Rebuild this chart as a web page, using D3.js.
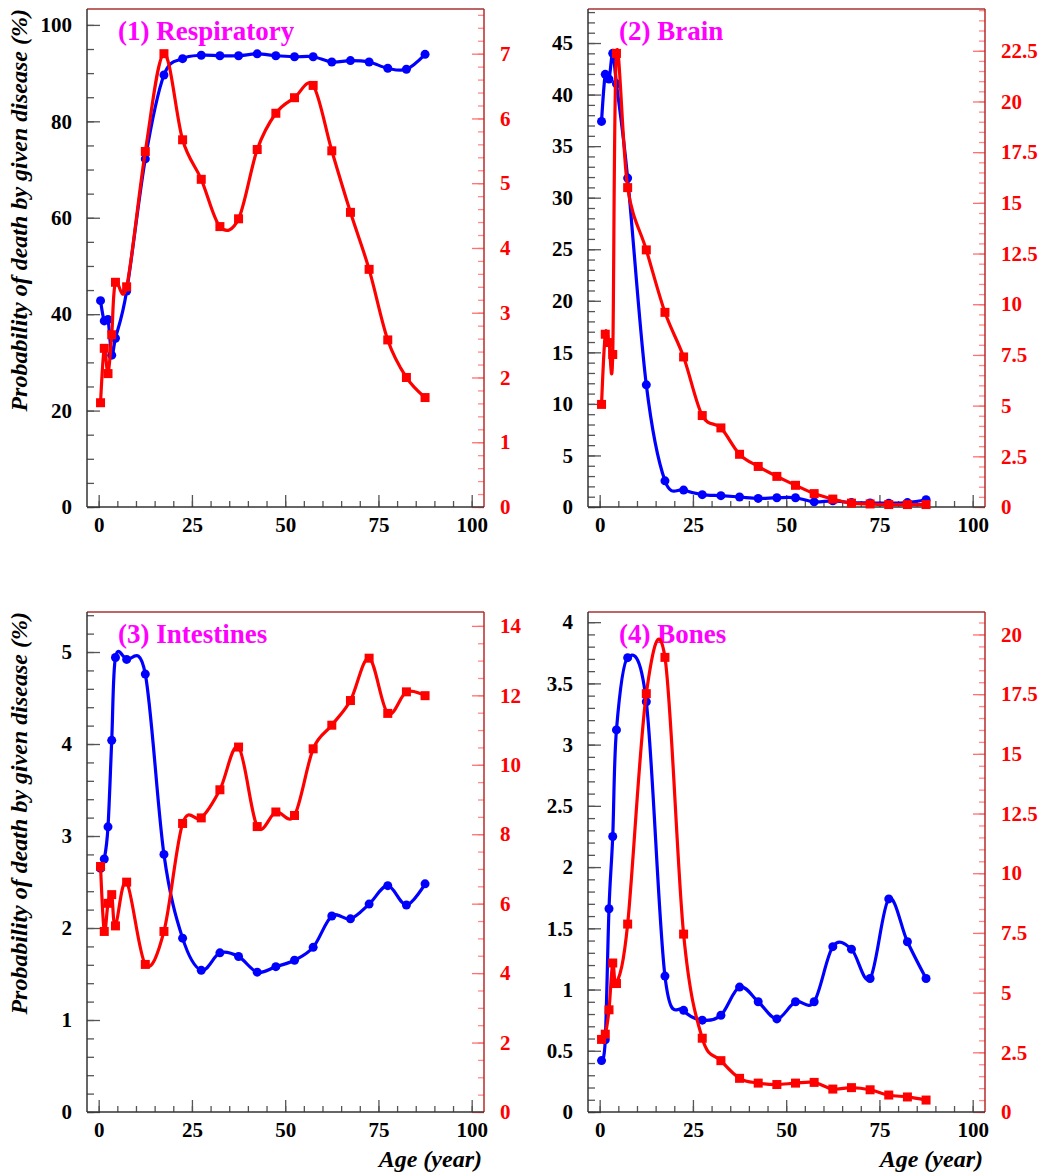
<!DOCTYPE html>
<html>
<meta charset="utf-8">
<script src="https://d3js.org/d3.v7.min.js"></script>
<style>
  body { margin: 0; background: #fff; }
  text { font-family: "Liberation Serif", "Times New Roman", serif; font-weight: bold; }
</style>
<body>
<div id="vis"></div>
<script>

// age bins (year)
var ages = [0.5, 1.5, 2.5, 3.5, 4.5, 7.5, 12.5, 17.5, 22.5, 27.5, 32.5, 37.5,
            42.5, 47.5, 52.5, 57.5, 62.5, 67.5, 72.5, 77.5, 82.5, 87.5];

// blue = probability of death by given disease (%), left axis
// red  = second quantity, right axis
var respBlue = [42.8, 38.6, 38.9, 31.5, 35.0, 44.8, 72.2, 89.6, 93.0, 93.7, 93.6, 93.6,
                94.0, 93.6, 93.4, 93.4, 92.3, 92.6, 92.3, 91.0, 90.8, 93.9];
var respRed  = [1.61, 2.45, 2.06, 2.66, 3.47, 3.40, 5.49, 7.00, 5.67, 5.06, 4.33, 4.45,
                5.52, 6.08, 6.32, 6.51, 5.50, 4.55, 3.67, 2.58, 2.00, 1.69];

var brainBlue = [37.4, 41.96, 41.5, 44.0, 41.05, 31.9, 11.85, 2.54, 1.64, 1.2, 1.1, 0.97,
                 0.83, 0.9, 0.9, 0.5, 0.6, 0.43, 0.4, 0.37, 0.43, 0.7];
var brainRed  = [5.06, 8.52, 8.11, 7.52, 22.37, 15.75, 12.68, 9.60, 7.40, 4.51, 3.90, 2.60,
                 2.00, 1.51, 1.07, 0.66, 0.39, 0.19, 0.15, 0.12, 0.12, 0.12];

var intBlue = [2.65, 2.75, 3.10, 4.04, 4.94, 4.92, 4.76, 2.80, 1.89, 1.54, 1.73, 1.69,
               1.52, 1.58, 1.65, 1.79, 2.13, 2.10, 2.26, 2.46, 2.25, 2.48];
var intRed  = [7.07, 5.20, 6.01, 6.26, 5.36, 6.62, 4.25, 5.20, 8.31, 8.47, 9.28, 10.51,
               8.22, 8.64, 8.54, 10.46, 11.14, 11.85, 13.07, 11.48, 12.10, 11.99];

var boneBlue = [0.42, 0.59, 1.66, 2.25, 3.12, 3.71, 3.35, 1.11, 0.83, 0.75, 0.79, 1.02,
                0.90, 0.76, 0.90, 0.90, 1.35, 1.33, 1.09, 1.74, 1.39, 1.09];
var boneRed  = [3.04, 3.26, 4.28, 6.24, 5.38, 7.87, 17.52, 19.04, 7.45, 3.09, 2.15, 1.41,
                1.21, 1.15, 1.21, 1.24, 0.96, 1.02, 0.93, 0.71, 0.63, 0.50];

var titles = ["(1) Respiratory", "(2) Brain", "(3) Intestines", "(4) Bones"];
var xTicks = [0, 25, 50, 75, 100];

var panels = [
  {title: titles[0], blue: respBlue,  red: respRed,  lTop: 103.3, lStep: 20,  lMinor: 5,   rTop: 7.69,  rStep: 1,   rMinor: 0.2, col: 0, row: 0},
  {title: titles[1], blue: brainBlue, red: brainRed, lTop: 48.3,  lStep: 5,   lMinor: 1,   rTop: 24.56, rStep: 2.5, rMinor: 0.5, col: 1, row: 0},
  {title: titles[2], blue: intBlue,   red: intRed,   lTop: 5.435, lStep: 1,   lMinor: 0.2, rTop: 14.4,  rStep: 2,   rMinor: 0.5, col: 0, row: 1},
  {title: titles[3], blue: boneBlue,  red: boneRed,  lTop: 4.083, lStep: 0.5, lMinor: 0.1, rTop: 20.94, rStep: 2.5, rMinor: 0.5, col: 1, row: 1}
];

var cols = [{x0: 87, x1: 484}, {x0: 588, x1: 985}];
var rows = [{y0: 9, y1: 507}, {y0: 612, y1: 1112}];
var xDomain = [-3.13, 103.3];

var svg = d3.select("#vis").append("svg")
    .attr("width", 1039)
    .attr("height", 1176);

function fmt(v) { return String(+v.toFixed(2)); }

function steps(top, step) {
  var n = Math.floor(top / step + 1e-6);
  return d3.range(n + 1).map(function(i) { return +(i * step).toFixed(4); });
}

function styleAxis(sel, lineColor, textColor) {
  sel.select(".domain").remove();
  sel.attr("font-family", null).attr("font-size", null);
  sel.selectAll(".tick line").attr("stroke", lineColor).attr("stroke-width", 1.3);
  sel.selectAll(".tick text")
      .attr("fill", textColor)
      .style("font-size", "21px")
      .style("font-family", "'Liberation Serif', serif")
      .style("font-weight", "bold");
}

panels.forEach(function(p) {
  var c = cols[p.col], r = rows[p.row];
  var x = d3.scaleLinear().domain(xDomain).range([c.x0, c.x1]);
  var yL = d3.scaleLinear().domain([0, p.lTop]).range([r.y1, r.y0]);
  var yR = d3.scaleLinear().domain([0, p.rTop]).range([r.y1, r.y0]);
  var g = svg.append("g");

  // minor ticks
  var lMaj = steps(p.lTop, p.lStep), rMaj = steps(p.rTop, p.rStep), xMinor = steps(xDomain[1], 5);
  g.append("g").attr("transform", "translate(" + c.x0 + ",0)")
    .call(d3.axisLeft(yL).tickValues(steps(p.lTop, p.lMinor)).tickSize(-7).tickFormat(""))
    .call(styleAxis, "#555", "#000");
  g.append("g").attr("transform", "translate(0," + r.y1 + ")")
    .call(d3.axisBottom(x).tickValues(xMinor).tickSize(-6).tickFormat(""))
    .call(styleAxis, "#555", "#000");
  g.append("g").attr("transform", "translate(" + c.x1 + ",0)")
    .call(d3.axisRight(yR).tickValues(steps(p.rTop, p.rMinor)).tickSize(-6).tickFormat(""))
    .call(styleAxis, "#ff8a8a", "#f00");

  // major ticks + labels
  g.append("g").attr("transform", "translate(" + c.x0 + ",0)")
    .call(d3.axisLeft(yL).tickValues(lMaj).tickSize(-13).tickPadding(15).tickFormat(fmt))
    .call(styleAxis, "#555", "#000");
  g.append("g").attr("transform", "translate(0," + r.y1 + ")")
    .call(d3.axisBottom(x).tickValues(xTicks).tickSize(-12).tickPadding(10).tickFormat(fmt))
    .call(styleAxis, "#555", "#000");
  g.append("g").attr("transform", "translate(" + c.x1 + ",0)")
    .call(d3.axisRight(yR).tickValues(rMaj).tickSize(-12).tickPadding(16).tickFormat(fmt))
    .call(styleAxis, "#ff7070", "#f00");

  // frame
  g.append("line").attr("x1", c.x0).attr("x2", c.x1).attr("y1", r.y0).attr("y2", r.y0)
    .attr("stroke", "#a83232").attr("stroke-width", 1.5);
  g.append("line").attr("x1", c.x1).attr("x2", c.x1).attr("y1", r.y0).attr("y2", r.y1)
    .attr("stroke", "#b82a2a").attr("stroke-width", 1.5);
  g.append("line").attr("x1", c.x0).attr("x2", c.x0).attr("y1", r.y0).attr("y2", r.y1)
    .attr("stroke", "#333").attr("stroke-width", 1.5);
  g.append("line").attr("x1", c.x0).attr("x2", c.x1).attr("y1", r.y1).attr("y2", r.y1)
    .attr("stroke", "#333").attr("stroke-width", 1.5);

  // title
  g.append("text")
    .attr("x", c.x0 + 31).attr("y", r.y0 + 31)
    .attr("fill", "#ff00ff")
    .style("font-size", "27px")
    .text(p.title);

  var curve = d3.curveCatmullRom.alpha(0);
  var lineB = d3.line().x(function(d, i) { return x(ages[i]); }).y(function(d) { return yL(d); }).curve(curve);
  var lineR = d3.line().x(function(d, i) { return x(ages[i]); }).y(function(d) { return yR(d); }).curve(curve);

  g.append("path").datum(p.blue).attr("d", lineB)
    .attr("fill", "none").attr("stroke", "#0000ff").attr("stroke-width", 3.2);
  g.selectAll(".dotB").data(p.blue).enter().append("circle")
    .attr("cx", function(d, i) { return x(ages[i]); })
    .attr("cy", function(d) { return yL(d); })
    .attr("r", 4.5).attr("fill", "#0000ff");

  g.append("path").datum(p.red).attr("d", lineR)
    .attr("fill", "none").attr("stroke", "#ff0000").attr("stroke-width", 3.2);
  g.selectAll(".dotR").data(p.red).enter().append("rect")
    .attr("x", function(d, i) { return x(ages[i]) - 4.5; })
    .attr("y", function(d) { return yR(d) - 4.5; })
    .attr("width", 9).attr("height", 9).attr("fill", "#ff0000");

  // axis titles
  if (p.col === 0) {
    g.append("text")
      .attr("transform", "translate(27," + r.y0 + ") rotate(-90)")
      .attr("text-anchor", "end")
      .style("font-size", "24px").style("font-style", "italic")
      .text("Probability of death by given disease (%)");
  }
  if (p.row === 1) {
    g.append("text")
      .attr("x", c.x1 - 2).attr("y", 1167)
      .attr("text-anchor", "end")
      .style("font-size", "24px").style("font-style", "italic")
      .text("Age (year)");
  }
});

</script>
</body>
</html>
